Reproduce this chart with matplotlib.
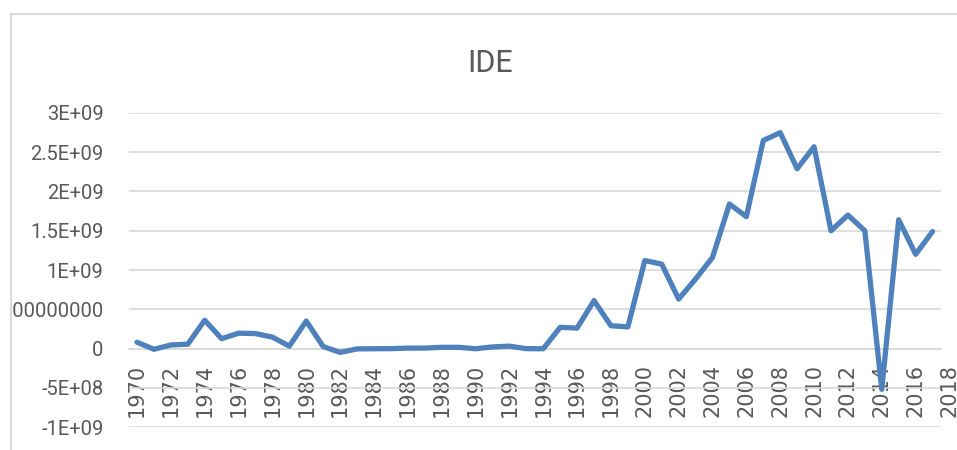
import matplotlib
matplotlib.use('Agg')
import matplotlib.pyplot as plt
from matplotlib.patches import Rectangle
from matplotlib.lines import Line2D

# IDE series, 1970-2017
years = list(range(1970, 2018))
ide = [8.0e7, -1.0e7, 4.5e7, 5.5e7, 3.6e8, 1.25e8, 1.95e8, 1.9e8, 1.45e8, 3.0e7,
       3.5e8, 2.5e7, -5.0e7, -5e6, -3e6, -2e6, 5e6, 5e6, 1.5e7, 1.5e7,
       -3e6, 2.0e7, 3.0e7, -2e6, -3e6, 2.7e8, 2.6e8, 6.1e8, 2.9e8, 2.75e8,
       1.12e9, 1.075e9, 6.3e8, 8.85e8, 1.16e9, 1.84e9, 1.68e9, 2.65e9, 2.75e9, 2.29e9,
       2.57e9, 1.5e9, 1.70e9, 1.5e9, -5.2e8, 1.64e9, 1.2e9, 1.49e9]

ytick_vals = [-1e9, -5e8, 0, 5e8, 1e9, 1.5e9, 2e9, 2.5e9, 3e9]
ytick_labels = ['-1E+09', '-5E+08', '0', '500000000', '1E+09', '1.5E+09', '2E+09', '2.5E+09', '3E+09']
xtick_years = list(range(1970, 2019, 2))

grey_txt = '#595959'
grid_c = '#d9d9d9'

plt.rcParams['font.family'] = 'Roboto'
fig = plt.figure(figsize=(9.57, 4.5), dpi=100)
ax = fig.add_axes([0.1343, 0.0511, 0.849, 0.6978])

ax.plot(years, ide, color='#4f81bd', lw=3.8, solid_joinstyle='round',
        solid_capstyle='round', zorder=3)

ax.set_xlim(years[0] - 0.5, years[-1] + 0.5)
ax.set_ylim(ytick_vals[0], ytick_vals[-1])
ax.set_yticks(ytick_vals, ytick_labels)
shown = [y for y in xtick_years if y <= years[-1]]
ax.set_xticks(shown, [str(y) for y in shown])

ax.yaxis.grid(True, color=grid_c, lw=1.2)
ax.set_axisbelow(True)
for s in ['top', 'right', 'left']:
    ax.spines[s].set_visible(False)
ax.spines['bottom'].set_position(('data', 0))
ax.spines['bottom'].set_color(grid_c)
ax.spines['bottom'].set_linewidth(1.2)

ax.tick_params(axis='y', length=0, pad=18, labelsize=14.5, labelcolor=grey_txt)
ax.tick_params(axis='x', length=0, pad=11, labelsize=15, labelcolor=grey_txt,
               labelrotation=90, labelfontfamily='DejaVu Sans')

# last label sits past the plot area
for y in xtick_years:
    if y > years[-1]:
        ax.annotate(str(y), xy=(y, 0), xytext=(0, -11), textcoords='offset points',
                    rotation=90, ha='center', va='top', fontsize=15, color=grey_txt,
                    family='DejaVu Sans', annotation_clip=False)

# chart area border (clips the long y label)
fig.add_artist(Rectangle((0, 0), 12.5 / 957, 1, transform=fig.transFigure,
                         facecolor='white', edgecolor='none', zorder=5))
fig.add_artist(Line2D([10.5 / 957, 10.5 / 957], [0, 1 - 13.5 / 450],
                      transform=fig.transFigure, color=grid_c, lw=1.5, zorder=6))
fig.add_artist(Line2D([10.5 / 957, 1], [1 - 13.5 / 450, 1 - 13.5 / 450],
                      transform=fig.transFigure, color=grid_c, lw=1.5, zorder=6))

fig.text(490 / 957, 1 - 72 / 450, 'IDE', ha='center', va='baseline',
         fontsize=22, color=grey_txt)

fig.savefig('out.png', dpi=100)
